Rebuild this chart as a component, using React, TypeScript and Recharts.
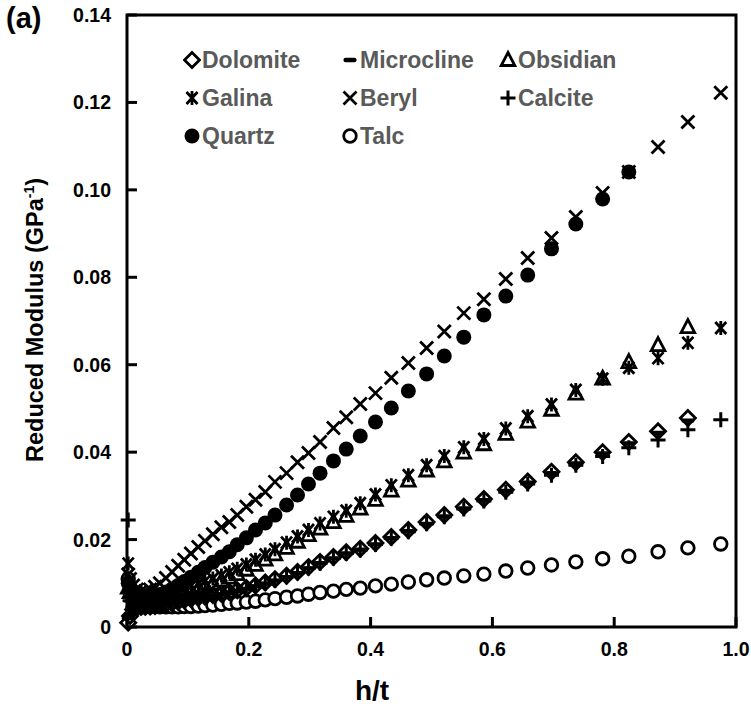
import React from "react";
import { ScatterChart, Scatter, XAxis, YAxis, ReferenceArea, Label } from "recharts";

// shared indentation depth grid (h/t), ascending
const H_T = [
  0.002, 0.005, 0.01, 0.016, 0.023, 0.03, 0.038, 0.046, 0.054, 0.064,
  0.074, 0.084, 0.094, 0.105, 0.117, 0.128, 0.141, 0.155, 0.168, 0.181,
  0.196, 0.211, 0.227, 0.243, 0.262, 0.28, 0.298, 0.317, 0.339, 0.36,
  0.383, 0.408, 0.434, 0.462, 0.492, 0.521, 0.553, 0.586, 0.622, 0.658,
  0.697, 0.737, 0.781, 0.824, 0.872, 0.921, 0.975,
];

const DOLOMITE = [
  0.001, 0.0025, 0.004, 0.0045, 0.0046, 0.0046, 0.0047, 0.0048, 0.005, 0.0052,
  0.0055, 0.0058, 0.0061, 0.0064, 0.0067, 0.007, 0.0073, 0.0076, 0.008, 0.0084,
  0.0089, 0.0095, 0.0102, 0.0109, 0.0117, 0.0126, 0.0137, 0.0149, 0.016, 0.0171,
  0.0179, 0.0192, 0.0206, 0.0222, 0.024, 0.0256, 0.0275, 0.0293, 0.0314, 0.0333,
  0.0355, 0.0377, 0.04, 0.0423, 0.0448, 0.0478, null,
];

const MICROCLINE = [
  0.002, 0.003, 0.0038, 0.0042, 0.0044, 0.0045, 0.0046, 0.0047, 0.0049, 0.0051,
  0.0053, 0.0056, 0.0059, 0.0062, 0.0065, 0.0068, 0.0071, 0.0074, 0.0078, 0.0082,
  0.0087, 0.0093, 0.0099, 0.0106, 0.0114, 0.0123, 0.0134, 0.0146, 0.0157, 0.0168,
  0.0177, 0.0189, 0.0203, 0.0219, 0.0236, 0.0253, 0.0271, 0.029, 0.0311, 0.033,
  0.0352, 0.0374, 0.0397, 0.042, 0.0444, 0.0472, null,
];

const OBSIDIAN = [
  0.009, 0.008, 0.0072, 0.0065, 0.0062, 0.0061, 0.0061, 0.0062, 0.0064, 0.0066,
  0.0069, 0.0073, 0.0077, 0.0082, 0.0087, 0.0093, 0.0099, 0.0106, 0.0113, 0.0121,
  0.0131, 0.0142, 0.0154, 0.0166, 0.0181, 0.0195, 0.021, 0.0225, 0.024, 0.0254,
  0.0271, 0.0291, 0.0312, 0.0335, 0.0358, 0.0379, 0.0399, 0.0418, 0.0442, 0.047,
  0.0497, 0.0534, 0.0568, 0.0606, 0.0645, 0.0686, null,
];

const GALINA = [
  0.0145, 0.009, 0.008, 0.0075, 0.0072, 0.0071, 0.0071, 0.0073, 0.0075, 0.0078,
  0.0081, 0.0085, 0.0089, 0.0094, 0.0099, 0.0105, 0.0111, 0.0118, 0.0125, 0.0133,
  0.0143, 0.0154, 0.0166, 0.0178, 0.0193, 0.0207, 0.0222, 0.0237, 0.0252, 0.0266,
  0.0283, 0.0303, 0.0324, 0.0347, 0.037, 0.0391, 0.0411, 0.043, 0.0454, 0.0482,
  0.0509, 0.0542, 0.0568, 0.0593, 0.0615, 0.065, 0.0684,
];

const BERYL = [
  0.012, 0.011, 0.0095, 0.0086, 0.0082, 0.0082, 0.0086, 0.0092, 0.01, 0.0112,
  0.0126, 0.014, 0.0154, 0.0168, 0.0183, 0.0197, 0.0212, 0.0228, 0.024, 0.0256,
  0.0275, 0.0291, 0.0309, 0.0332, 0.0352, 0.0377, 0.0398, 0.0423, 0.0455, 0.048,
  0.051, 0.0535, 0.057, 0.0604, 0.0638, 0.0676, 0.0718, 0.075, 0.0796, 0.0844,
  0.089, 0.0938, 0.0993, 0.1041, 0.1098, 0.1155, 0.1222,
];

const CALCITE = [
  0.0245, 0.006, 0.0045, 0.0043, 0.0044, 0.0045, 0.0046, 0.0047, 0.0049, 0.0051,
  0.0054, 0.0057, 0.006, 0.0063, 0.0066, 0.0069, 0.0072, 0.0075, 0.0079, 0.0083,
  0.0088, 0.0094, 0.01, 0.0107, 0.0115, 0.0124, 0.0135, 0.0146, 0.0157, 0.0168,
  0.0176, 0.0189, 0.0203, 0.0218, 0.0236, 0.0252, 0.027, 0.0288, 0.0308, 0.0327,
  0.0347, 0.037, 0.039, 0.041, 0.0428, 0.0451, 0.0474,
];

const QUARTZ = [
  0.01, 0.0088, 0.0078, 0.0072, 0.0068, 0.0067, 0.0068, 0.007, 0.0074, 0.008,
  0.0087, 0.0095, 0.0104, 0.0114, 0.0125, 0.0136, 0.0148, 0.016, 0.0172, 0.0188,
  0.0204, 0.0222, 0.0238, 0.0256, 0.0279, 0.0302, 0.0327, 0.0352, 0.038, 0.0407,
  0.0437, 0.0469, 0.0501, 0.054, 0.0579, 0.062, 0.0663, 0.0714, 0.0757, 0.0805,
  0.0865, 0.0922, 0.0979, 0.1041, null, null, null,
];

const TALC = [
  0.011, 0.008, 0.0066, 0.0058, 0.0053, 0.005, 0.0048, 0.0047, 0.0046, 0.0046,
  0.0046, 0.0046, 0.0047, 0.0047, 0.0048, 0.0049, 0.005, 0.0052, 0.0054, 0.0055,
  0.0057, 0.0059, 0.0062, 0.0065, 0.0068, 0.0071, 0.0075, 0.0079, 0.0082, 0.0086,
  0.0089, 0.0094, 0.0098, 0.0103, 0.0108, 0.0112, 0.0117, 0.0121, 0.0128, 0.0135,
  0.0142, 0.0149, 0.0156, 0.0162, 0.0172, 0.0181, 0.019,
];

const X_TICKS = [0, 0.2, 0.4, 0.6, 0.8, 1.0];
const Y_TICKS = [0, 0.02, 0.04, 0.06, 0.08, 0.1, 0.12, 0.14];

type Kind = "diamond" | "dash" | "triangle" | "asterisk" | "cross" | "plus" | "dot" | "ring";

// drawing order: last one ends up on top
const SERIES: { name: string; values: (number | null)[]; kind: Kind }[] = [
  { name: "Talc", values: TALC, kind: "ring" },
  { name: "Dolomite", values: DOLOMITE, kind: "diamond" },
  { name: "Microcline", values: MICROCLINE, kind: "dash" },
  { name: "Calcite", values: CALCITE, kind: "plus" },
  { name: "Obsidian", values: OBSIDIAN, kind: "triangle" },
  { name: "Galina", values: GALINA, kind: "asterisk" },
  { name: "Quartz", values: QUARTZ, kind: "dot" },
  { name: "Beryl", values: BERYL, kind: "cross" },
];

const LEGEND_ROWS: [string, Kind][][] = [
  [["Dolomite", "diamond"], ["Microcline", "dash"], ["Obsidian", "triangle"]],
  [["Galina", "asterisk"], ["Beryl", "cross"], ["Calcite", "plus"]],
  [["Quartz", "dot"], ["Talc", "ring"]],
];

const FONT = "'Liberation Sans', Arial, sans-serif";

function Marker({ kind, cx, cy }: { kind: Kind; cx: number; cy: number }) {
  const line = { stroke: "#000", strokeWidth: 2.8, fill: "none" };
  switch (kind) {
    case "diamond":
      return <path d={`M${cx},${cy - 7.5}L${cx + 7.5},${cy}L${cx},${cy + 7.5}L${cx - 7.5},${cy}Z`} {...line} />;
    case "dash":
      return <rect x={cx - 6.5} y={cy - 2.2} width={13} height={4.4} rx={2} fill="#000" />;
    case "triangle":
      return <path d={`M${cx},${cy - 7.5}L${cx + 6.8},${cy + 5.5}L${cx - 6.8},${cy + 5.5}Z`} {...line} />;
    case "asterisk":
      return (
        <path
          d={`M${cx - 5.5},${cy - 6}L${cx + 5.5},${cy + 6}M${cx + 5.5},${cy - 6}L${cx - 5.5},${cy + 6}M${cx},${cy - 7}L${cx},${cy + 7}`}
          {...line}
        />
      );
    case "cross":
      return (
        <path d={`M${cx - 6.5},${cy - 6.5}L${cx + 6.5},${cy + 6.5}M${cx + 6.5},${cy - 6.5}L${cx - 6.5},${cy + 6.5}`} {...line} />
      );
    case "plus":
      return <path d={`M${cx - 7.5},${cy}L${cx + 7.5},${cy}M${cx},${cy - 7.5}L${cx},${cy + 7.5}`} {...line} strokeWidth={3} />;
    case "dot":
      return <circle cx={cx} cy={cy} r={7.5} fill="#000" />;
    case "ring":
      return <circle cx={cx} cy={cy} r={6.3} {...line} fill="#fff" />;
  }
}

const fmtX = (v: number) => (v === 0 ? "0" : v.toFixed(1));
const fmtY = (v: number) => (v === 0 ? "0" : v.toFixed(2));

// tick marks point into the plot, labels sit outside
const XTick = ({ x, y, payload }: any) => (
  <g>
    <line x1={x} x2={x} y1={y} y2={y - 10} stroke="#000" strokeWidth={3} />
    <text x={x} y={y + 29} textAnchor="middle" fontSize={19.5} fontWeight="bold" fontFamily={FONT} fill="#000">
      {fmtX(payload.value)}
    </text>
  </g>
);

const YTick = ({ x, y, payload }: any) => (
  <g>
    <line x1={x} x2={x + 10} y1={y} y2={y} stroke="#000" strokeWidth={3} />
    <text x={x - 16} y={y + 7} textAnchor="end" fontSize={19.5} fontWeight="bold" fontFamily={FONT} fill="#000">
      {fmtY(payload.value)}
    </text>
  </g>
);

function LegendBox() {
  return (
    <div style={{ position: "absolute", left: 183, top: 41, fontFamily: FONT }}>
      {LEGEND_ROWS.map((row, r) => (
        <div key={r} style={{ display: "flex", height: 38 }}>
          {row.map(([name, kind]) => (
            <div key={name} style={{ width: 158, display: "flex", alignItems: "center" }}>
              <svg width={18} height={28} style={{ flex: "none" }}>
                <Marker kind={kind} cx={9} cy={14} />
              </svg>
              <span style={{ marginLeft: 1, fontSize: 23, fontWeight: "bold", color: "#5a5a5a" }}>{name}</span>
            </div>
          ))}
        </div>
      ))}
    </div>
  );
}

export default function App() {
  return (
    <div style={{ position: "absolute", left: 0, top: 0, width: 751, height: 709, background: "#fff" }}>
      <ScatterChart width={751} height={709} margin={{ top: 15, right: 15, bottom: 0, left: 0 }}>
        <XAxis
          type="number"
          dataKey="h"
          domain={[0, 1]}
          ticks={X_TICKS}
          axisLine={false}
          tickLine={false}
          tickSize={0}
          tickMargin={0}
          tick={<XTick />}
          height={82}
        >
          <Label
            content={() => (
              <text x={372} y={700} textAnchor="middle" fontSize={28} fontWeight="bold" fontFamily={FONT} fill="#000">
                h/t
              </text>
            )}
          />
        </XAxis>
        <YAxis
          type="number"
          dataKey="v"
          domain={[0, 0.14]}
          ticks={Y_TICKS}
          axisLine={false}
          tickLine={false}
          tickSize={0}
          tickMargin={0}
          tick={<YTick />}
          width={127}
        >
          <Label
            content={() => (
              <text
                transform="translate(43,320) rotate(-90)"
                textAnchor="middle"
                fontSize={23.5}
                fontWeight="bold"
                fontFamily={FONT}
                fill="#000"
              >
                Reduced Modulus (GPa
                <tspan dy={-9} fontSize={14}>-1</tspan>
                <tspan dy={9}>)</tspan>
              </text>
            )}
          />
        </YAxis>
        <ReferenceArea x1={0} x2={1} y1={0} y2={0.14} fill="none" stroke="#000" strokeWidth={3} />
        {SERIES.map((s) => (
          <Scatter
            key={s.name}
            name={s.name}
            data={H_T.map((h, i) => ({ h, v: s.values[i] })).filter((d) => d.v != null)}
            isAnimationActive={false}
            shape={(p: any) => <Marker kind={s.kind} cx={p.cx} cy={p.cy} />}
          />
        ))}
      </ScatterChart>
      <div
        style={{ position: "absolute", left: 6, top: 2, fontFamily: FONT, fontSize: 29, fontWeight: "bold" }}
      >
        (a)
      </div>
      <LegendBox />
    </div>
  );
}
